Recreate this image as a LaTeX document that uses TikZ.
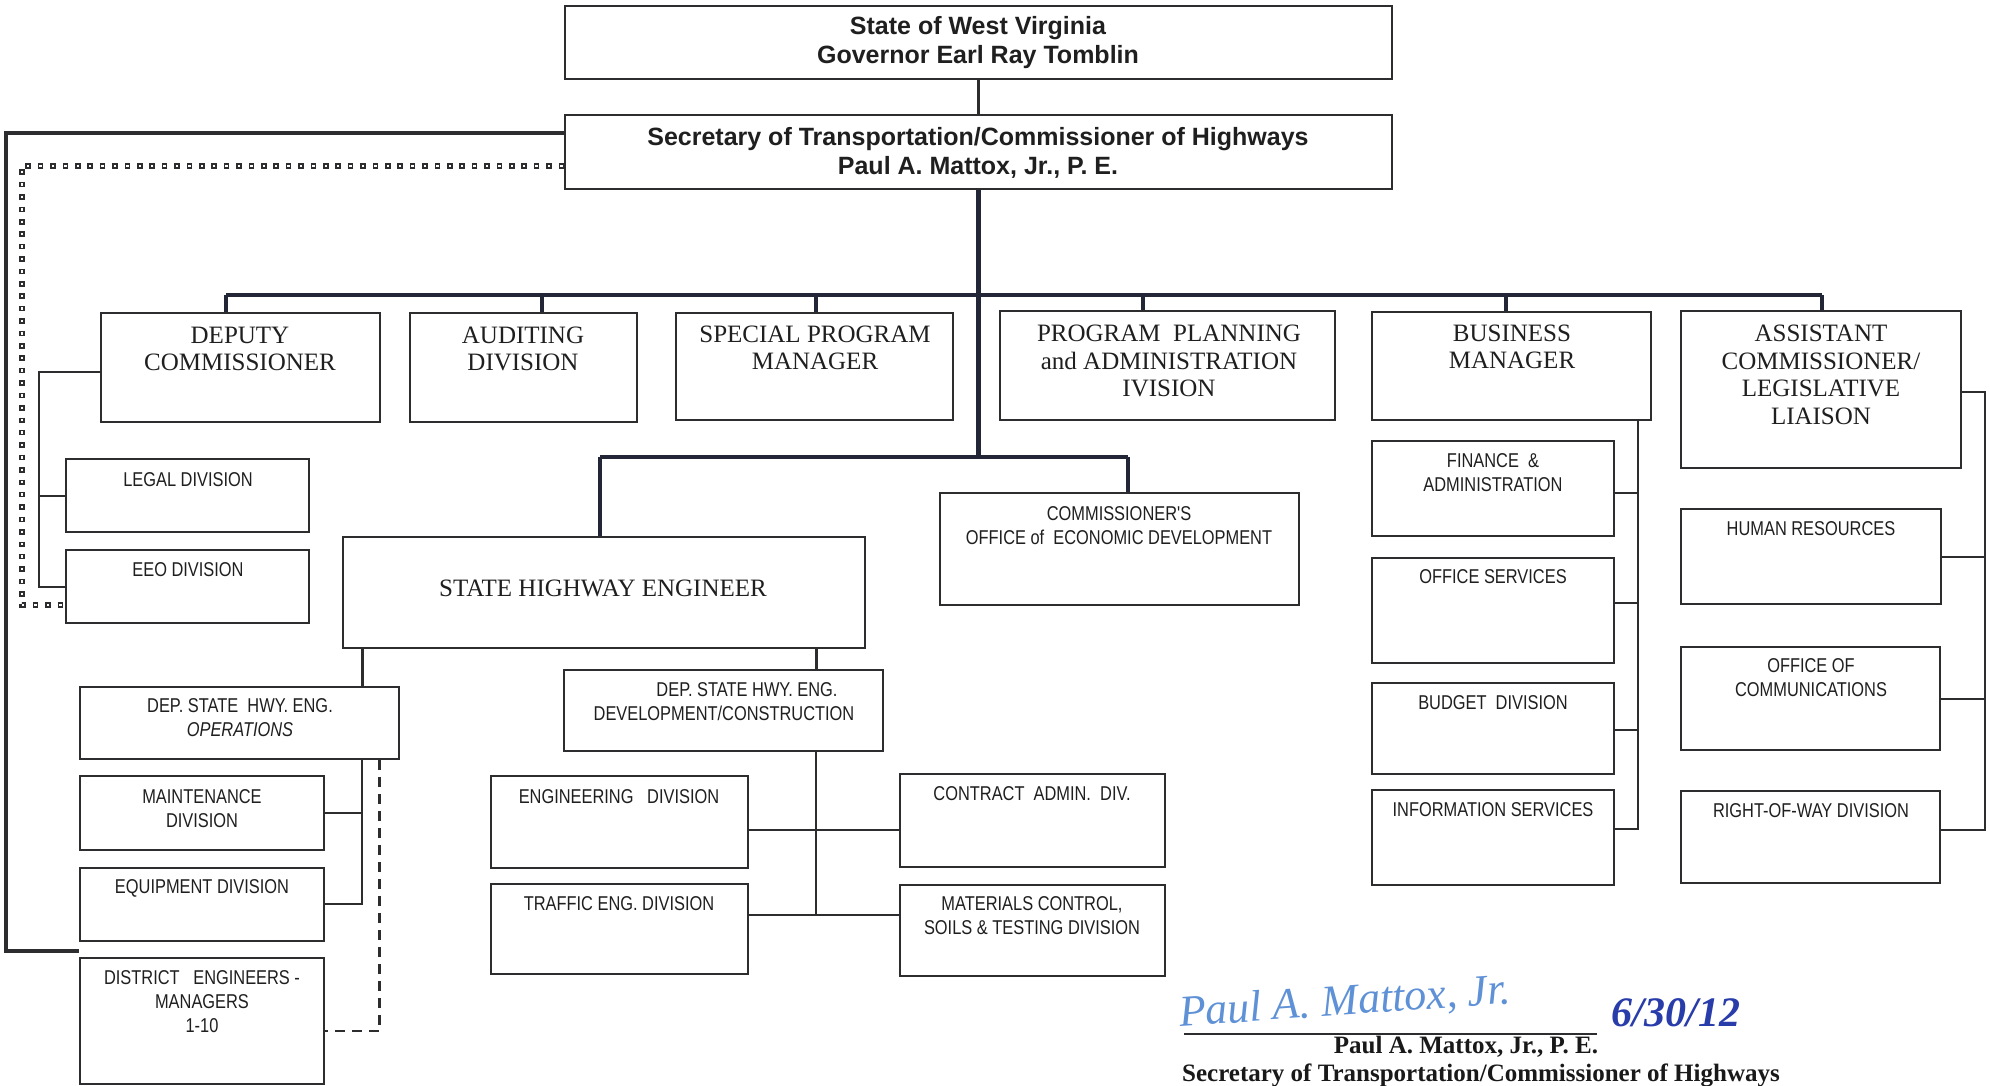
\documentclass[tikz,border=0pt]{standalone}
\usepackage{fontspec}
\setmainfont{Liberation Serif}
\newfontfamily\arialf{Liberation Sans}
\newfontfamily\narrowf[FakeStretch=0.82]{Liberation Sans}
\usetikzlibrary{fit}
\definecolor{ink}{RGB}{45,45,48}
\definecolor{navy}{RGB}{35,38,55}
\definecolor{sigblue}{RGB}{95,145,215}
\definecolor{dateblue}{RGB}{40,60,170}
\newcommand{\obx}[3]{\node[bx, fit={#2 #3}] (#1) {};}
\begin{document}
\begin{tikzpicture}[x=1pt,y=-1pt,
 bx/.style={draw=ink, line width=1.8pt, inner sep=0pt, rectangle},
 ser/.style={font=\fontsize{25}{27.5}\selectfont, align=center, inner sep=0pt, text=black!88},
 nar/.style={font=\narrowf\fontsize{20}{24}\selectfont, align=center, inner sep=0pt, text=black!88},
 hdr/.style={font=\arialf\bfseries\fontsize{25}{29}\selectfont, align=center, inner sep=0pt, text=black!88},
 heavy/.style={draw=navy, line width=4.8pt},
 medium/.style={draw=ink, line width=3pt},
 lite/.style={draw=ink, line width=1.6pt},
 dashy/.style={draw=ink, line width=2.4pt, dash pattern=on 10pt off 7pt},
 sqdot/.style={draw=ink, line width=5.5pt, dash pattern=on 5.5pt off 6.9pt,
   postaction={draw=white, line width=2.2pt, dash pattern=on 2.4pt off 10pt, dash phase=10.85pt}},
]
\useasboundingbox (0,0) rectangle (1990,1086);
\fill[white] (0,0) rectangle (1990,1086);

% ---- boxes ----
\obx{gov}{(565,6)}{(1392,79)}
\obx{sec}{(565,115)}{(1392,189)}
\obx{dep}{(101,313)}{(380,422)}
\obx{aud}{(410,313)}{(637,422)}
\obx{spm}{(676,313)}{(953,420)}
\obx{ppa}{(1000,311)}{(1335,420)}
\obx{bus}{(1372,312)}{(1651,420)}
\obx{asst}{(1681,311)}{(1961,468)}
\obx{legal}{(66,459)}{(309,532)}
\obx{eeo}{(66,550)}{(309,623)}
\obx{she}{(343,537)}{(865,648)}
\obx{coed}{(940,493)}{(1299,605)}
\obx{dops}{(80,687)}{(399,759)}
\obx{maint}{(80,776)}{(324,850)}
\obx{equip}{(80,868)}{(324,941)}
\obx{dist}{(80,958)}{(324,1084)}
\obx{ddev}{(564,670)}{(883,751)}
\obx{eng}{(491,776)}{(748,868)}
\obx{traffic}{(491,884)}{(748,974)}
\obx{contract}{(900,774)}{(1165,867)}
\obx{mat}{(900,885)}{(1165,976)}
\obx{fin}{(1372,441)}{(1614,536)}
\obx{offs}{(1372,558)}{(1614,663)}
\obx{budget}{(1372,683)}{(1614,774)}
\obx{info}{(1372,790)}{(1614,885)}
\obx{hr}{(1681,509)}{(1941,604)}
\obx{comm}{(1681,647)}{(1940,750)}
\obx{row}{(1681,791)}{(1940,883)}

% ---- texts ----
\node[hdr] (gov-t) at (978,43) {State of West Virginia\\Governor Earl Ray Tomblin};
\node[hdr] (sec-t) at (978,153) {Secretary of Transportation/Commissioner of Highways\\Paul A. Mattox, Jr., P. E.};
\node[ser] (dep-t) at (240,349) {DEPUTY\\COMMISSIONER};
\node[ser] (aud-t) at (523,349) {AUDITING\\DIVISION};
\node[ser] (spm-t) at (815,348) {SPECIAL PROGRAM\\MANAGER};
\node[ser] (ppa-t) at (1169,361) {PROGRAM~~PLANNING\\and ADMINISTRATION\\IVISION};
\node[ser] (bus-t) at (1512,347) {BUSINESS\\MANAGER};
\node[ser] (asst-t) at (1821,375) {ASSISTANT\\COMMISSIONER/\\LEGISLATIVE\\LIAISON};
\node[ser] (she-t) at (603,588) {STATE HIGHWAY ENGINEER};
\node[nar] (legal-t) at (188,480) {LEGAL DIVISION};
\node[nar] (eeo-t) at (188,570) {EEO DIVISION};
\node[nar] (coed-t) at (1119,526) {COMMISSIONER'S\\OFFICE of~~ECONOMIC DEVELOPMENT};
\node[nar] (dops-t) at (240,718) {DEP. STATE~~HWY. ENG.\\{\itshape OPERATIONS}};
\node[nar] (maint-t) at (202,809) {MAINTENANCE\\DIVISION};
\node[nar] (equip-t) at (202,888) {EQUIPMENT DIVISION};
\node[nar] (dist-t) at (202,1002) {DISTRICT~~~ENGINEERS -\\MANAGERS\\1-10};
\node[nar] (ddev-t) at (724,702) {\hspace*{46pt}DEP. STATE HWY. ENG.\\DEVELOPMENT/CONSTRUCTION};
\node[nar] (eng-t) at (619,797) {ENGINEERING~~~DIVISION};
\node[nar] (traffic-t) at (619,904) {TRAFFIC ENG. DIVISION};
\node[nar] (contract-t) at (1032,794) {CONTRACT~~ADMIN.~~DIV.};
\node[nar] (mat-t) at (1032,916) {MATERIALS CONTROL,\\SOILS \& TESTING DIVISION};
\node[nar] (fin-t) at (1493,473) {FINANCE~~\&\\ADMINISTRATION};
\node[nar] (offs-t) at (1493,577) {OFFICE SERVICES};
\node[nar] (budget-t) at (1493,703) {BUDGET~~DIVISION};
\node[nar] (info-t) at (1493,810) {INFORMATION SERVICES};
\node[nar] (hr-t) at (1811,529) {HUMAN RESOURCES};
\node[nar] (comm-t) at (1811,678) {OFFICE OF\\COMMUNICATIONS};
\node[nar] (row-t) at (1811,811) {RIGHT-OF-WAY DIVISION};

% ---- top connectors ----
\draw[medium] (gov.south) -- (sec.north);
\coordinate (b1) at (226,295);
\coordinate (b6) at (1822,295);
\draw[heavy] (b1) -- (b6);
\foreach \x/\n in {226/dep,542/aud,816/spm,1143/ppa,1506/bus,1822/asst}
  \draw[heavy] (\x,295) -- (\x,0 |- \n.north);
\coordinate (tj) at (sec.south |- 0,457);
\coordinate (tL) at (600,457);
\coordinate (tR) at (1128,457);
\draw[heavy] (sec.south) -- (tj);
\draw[heavy] (tL) -- (tR);
\draw[heavy] (tL) -- (tL |- she.north);
\draw[heavy] (tR) -- (tR |- coed.north);

% ---- left side ----
\draw[draw=ink, line width=4pt] (sec.west |- 0,133) -- (6,133) -- (6,951) -- (dist.west |- 0,951);
\draw[sqdot] (sec.west |- 0,166) -- (22,166) -- (22,605) -- (eeo.west |- 0,605);
\draw[lite] (dep.west |- 0,372) -- (39,372) -- (39,587) -- (eeo.west |- 0,587);
\draw[lite] (39,496) -- (legal.west |- 0,496);

% ---- state highway engineer ----
\draw[medium] (362,0 |- she.south) -- (362,0 |- dops.north);
\draw[medium] (816,0 |- she.south) -- (816,0 |- ddev.north);
\draw[lite] (362,0 |- dops.south) -- (362,904) -- (equip.east |- 0,904);
\draw[lite] (362,813) -- (maint.east |- 0,813);
\draw[dashy] (379.5,0 |- dops.south) -- (379.5,1031) -- (dist.east |- 0,1031);
\draw[lite] (816,0 |- ddev.south) -- (816,915);
\draw[lite] (eng.east |- 0,830) -- (contract.west |- 0,830);
\draw[lite] (traffic.east |- 0,915) -- (mat.west |- 0,915);

% ---- business manager ----
\draw[lite] (1638,0 |- bus.south) -- (1638,829) -- (info.east |- 0,829);
\draw[lite] (fin.east |- 0,493) -- (1638,493);
\draw[lite] (offs.east |- 0,603) -- (1638,603);
\draw[lite] (budget.east |- 0,730) -- (1638,730);

% ---- assistant commissioner ----
\draw[lite] (asst.east |- 0,392) -- (1985,392) -- (1985,830) -- (row.east |- 0,830);
\draw[lite] (hr.east |- 0,557) -- (1985,557);
\draw[lite] (comm.east |- 0,699) -- (1985,699);

% ---- signature ----
\coordinate (sl1) at (1184,1034);
\coordinate (sl2) at (1597,1034);
\draw[draw=ink, line width=1.2pt] (sl1) -- (sl2);
\node[font=\itshape\fontsize{44}{46}\selectfont, text=sigblue, rotate=4, inner sep=0pt] (sig) at (1345,1003) {Paul A. Mattox, Jr.};
\node[font=\bfseries\itshape\fontsize{42}{44}\selectfont, text=dateblue, inner sep=0pt] (date) at (1676,1013) {6/30/12};
\node[font=\bfseries\fontsize{25}{27}\selectfont, inner sep=0pt, text=black!90] (signame) at (1466,1047) {Paul A. Mattox, Jr., P. E.};
\node[font=\bfseries\fontsize{25}{27}\selectfont, inner sep=0pt, text=black!90] (sigtitle) at (1481,1075) {Secretary of Transportation/Commissioner of Highways};
\end{tikzpicture}
\end{document}
